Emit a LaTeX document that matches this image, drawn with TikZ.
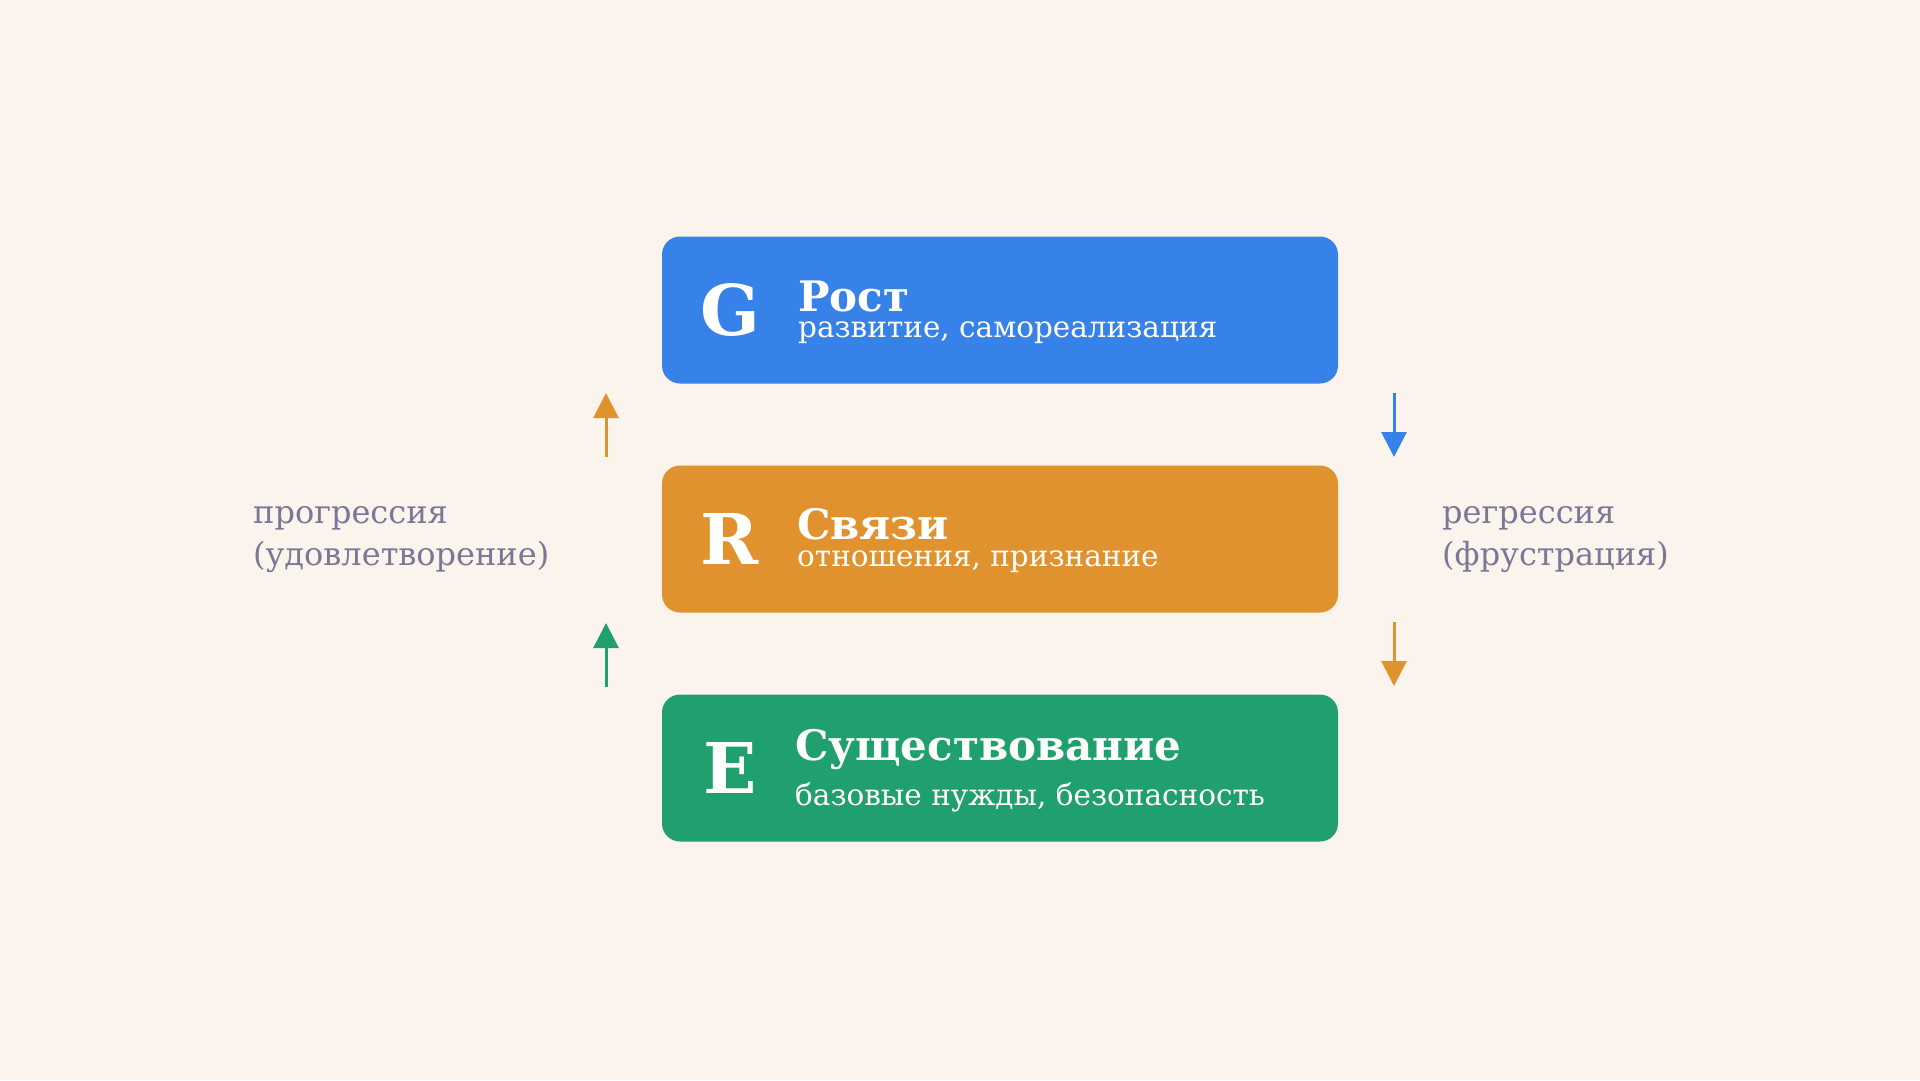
\documentclass[tikz,border=0pt]{standalone}
\usepackage{fontspec}
\setmainfont{DejaVu Serif}
\usetikzlibrary{arrows.meta}
\definecolor{bg}{HTML}{FBF4EC}
\definecolor{cG}{HTML}{3682E8}
\definecolor{cR}{HTML}{E0922F}
\definecolor{cE}{HTML}{20A06E}
\definecolor{lab}{HTML}{7A7896}
\tikzset{
  box/.style={rounded corners=18pt, minimum width=676pt, minimum height=147pt, inner sep=0pt, draw=none},
  letter/.style={text=white, font=\fontsize{70}{70}\selectfont\bfseries, inner sep=0pt},
  ttl/.style={text=white, font=\fontsize{42}{42}\selectfont\bfseries, inner sep=0pt, anchor=base west},
  subt/.style={text=white, font=\fontsize{29.5}{29.5}\selectfont, inner sep=0pt, anchor=base west},
  sidelab/.style={text=lab, font=\fontsize{32}{32}\selectfont, inner sep=0pt, anchor=base west},
  arr/.style={line width=3pt, -{Triangle[width=25pt,length=25pt]}}
}
\begin{document}
\begin{tikzpicture}[x=1pt,y=-1pt]
\fill[bg] (0,0) rectangle (1920,1080);
\useasboundingbox (0,0) rectangle (1920,1080);
% boxes
\node[box, fill=cG] (g) at (1000,310) {};
\node[box, fill=cR] (r) at (1000,539) {};
\node[box, fill=cE] (e) at (1000,768) {};
% letters
\node[letter] (gl) at (730,310) {G};
\node[letter] (rl) at (730,539) {R};
\node[letter] (el) at (730,768) {E};
% titles
\node[ttl] (gt) at (798,311) {Рост};
\node[subt] (gs) at (798,337) {развитие, самореализация};
\node[ttl] (rt) at (797,539) {Связи};
\node[subt] (rs) at (797,566) {отношения, признание};
\node[ttl] (et) at (795,760) {Существование};
\node[subt] (es) at (795,805) {базовые нужды, безопасность};
% arrows
\coordinate (pu1a) at (606,457); \coordinate (pu1b) at (606,393);
\coordinate (pu2a) at (606,687); \coordinate (pu2b) at (606,623);
\coordinate (rd1a) at (1394,393); \coordinate (rd1b) at (1394,457);
\coordinate (rd2a) at (1394,622); \coordinate (rd2b) at (1394,686);
\draw[arr, cR] (pu1a) -- (pu1b);
\draw[arr, cE] (pu2a) -- (pu2b);
\draw[arr, cG] (rd1a) -- (rd1b);
\draw[arr, cR] (rd2a) -- (rd2b);
% side labels
\node[sidelab] (pl1) at (253,523) {прогрессия};
\node[sidelab] (pl2) at (253,565) {(удовлетворение)};
\node[sidelab] (rl1) at (1442,523) {регрессия};
\node[sidelab] (rl2) at (1442,565) {(фрустрация)};
\end{tikzpicture}
\end{document}
